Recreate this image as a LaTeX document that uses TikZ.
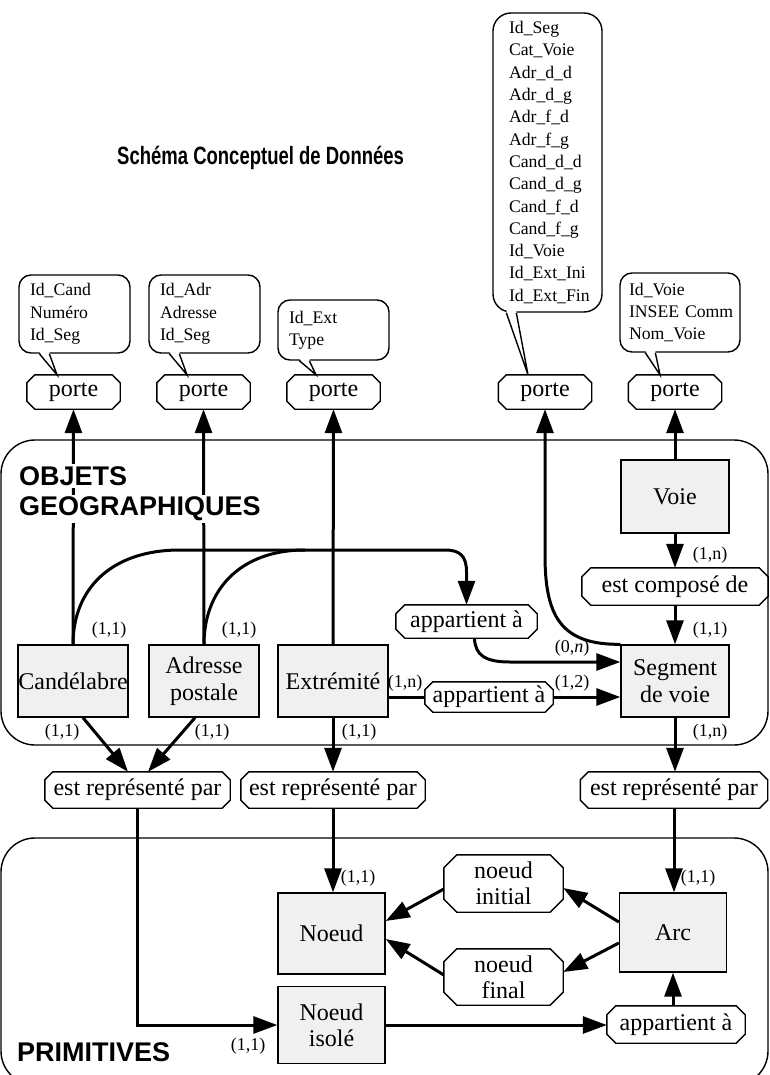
\documentclass[tikz,border=0pt]{standalone}
\usepackage{fontspec}
\setmainfont{Liberation Serif}
\newfontfamily\headfont{Liberation Sans}
\usetikzlibrary{arrows.meta,calc}

\begin{document}
\begin{tikzpicture}[x=1pt,y=-1pt,
  every node/.style={inner sep=0pt, align=center},
  ent/.style={draw, line width=1.4pt, fill=gray!12, font=\fontsize{24}{27}\selectfont},
  rel/.style={font=\fontsize{24}{26}\selectfont},
  relline/.style={line width=1.4pt},
  card/.style={font=\fontsize{18}{20}\selectfont},
  attr/.style={draw, line width=1.4pt, fill=white, rounded corners=12pt, align=left,
    inner xsep=11pt, font=\fontsize{17.7}{22.3}\selectfont},
  conn/.style={line width=3pt, -{Triangle[length=24pt,width=17pt]}},
  plain/.style={line width=3pt},
  frameline/.style={line width=1.4pt, rounded corners=34pt},
  head/.style={font=\headfont\bfseries\fontsize{27}{33}\selectfont, align=left, fill=white, inner sep=2pt}
]
\useasboundingbox (0,0) rectangle (770,1075);

% the two domains
\draw[frameline] (1,440) rectangle (768,745);
\draw[frameline] (1,838) rectangle (768,1085);

\node[anchor=west, font=\headfont\bfseries\fontsize{25}{29}\selectfont] (title) at (117,158)
  {\scalebox{0.74}[1]{Schéma Conceptuel de Données}};

% "porte" relations
\node[rel, minimum width=93pt, minimum height=34pt] (p1) at (73.5,392) {porte};
\node[rel, minimum width=93pt, minimum height=34pt] (p2) at (203.5,392) {porte};
\node[rel, minimum width=93pt, minimum height=34pt] (p3) at (333.5,392) {porte};
\node[rel, minimum width=93pt, minimum height=34pt] (p4) at (545,392) {porte};
\node[rel, minimum width=93pt, minimum height=34pt] (p5) at (675,392) {porte};

% attribute lists
\node[attr, text width=89pt, minimum height=78pt] (b1) at (74.5,314) {Id\_Cand\\Numéro\\Id\_Seg};
\node[attr, text width=89pt, minimum height=78pt] (b2) at (204.5,314) {Id\_Adr\\Adresse\\Id\_Seg};
\node[attr, text width=89pt, minimum height=60pt] (b3) at (333.5,330) {Id\_Ext\\Type};
\node[attr, rounded corners=18pt, inner xsep=16pt, text width=77pt, minimum height=299pt] (b4) at (547.5,162.5)
  {Id\_Seg\\Cat\_Voie\\Adr\_d\_d\\Adr\_d\_g\\Adr\_f\_d\\Adr\_f\_g\\Cand\_d\_d\\Cand\_d\_g\\Cand\_f\_d\\Cand\_f\_g\\Id\_Voie\\Id\_Ext\_Ini\\Id\_Ext\_Fin};
\node[attr, inner xsep=9pt, text width=102pt, minimum height=79pt] (b5) at (680,312.5) {Id\_Voie\\\mbox{INSEE Comm}\\Nom\_Voie};

\foreach \b/\o/\t/\s in {b1/21/p1/-16.5, b2/21/p2/-16.5, b3/22/p3/-17.5, b4/14/p4/-17, b5/26/p5/-15} {
  \fill[white] ($(\b.south west)+(\o,-2)$) -- ($(\b.south west)+(\o+10,-2)$) -- ([xshift=\s pt]\t.north) -- cycle;
  \draw[line width=1.4pt] ($(\b.south west)+(\o,0)$) -- ([xshift=\s pt]\t.north) -- ($(\b.south west)+(\o+10,0)$);
}

% entities
\node[ent, minimum width=110pt, minimum height=72pt] (cand) at (73,681) {Candélabre};
\node[ent, minimum width=110pt, minimum height=72pt] (adr) at (204,681) {Adresse\\postale};
\node[ent, minimum width=110pt, minimum height=72pt] (ext) at (333,681) {Extrémité};
\node[ent, minimum width=108pt, minimum height=72pt] (seg) at (675,681) {Segment\\de voie};
\node[ent, minimum width=108pt, minimum height=73pt] (voie) at (675,496.5) {Voie};
\node[ent, minimum width=107pt, minimum height=81pt] (noeud) at (331.5,933.5) {Noeud};
\node[ent, minimum width=107pt, minimum height=79pt] (arc) at (673,932.5) {Arc};
\node[ent, minimum width=107pt, minimum height=77pt, font=\fontsize{24}{26}\selectfont] (iso) at (331.5,1025) {Noeud\\isolé};

% relations
\node[rel, minimum width=186pt, minimum height=37pt] (estcomp) at (675,586.5) {est composé de};
\node[rel, minimum width=141pt, minimum height=33pt] (app1) at (466.5,621.5) {appartient à};
\node[rel, minimum width=128pt, minimum height=30pt] (app2) at (489,697) {appartient à};
\node[rel, minimum width=185pt, minimum height=36pt] (e1) at (137.5,790) {est représenté par};
\node[rel, minimum width=184pt, minimum height=36pt] (e2) at (333,790) {est représenté par};
\node[rel, minimum width=187pt, minimum height=36pt] (e3) at (674,790) {est représenté par};
\node[rel, minimum width=119pt, minimum height=57pt, font=\fontsize{24}{26}\selectfont] (init) at (503.5,883.5) {noeud\\initial};
\node[rel, minimum width=119pt, minimum height=56pt, font=\fontsize{24}{26}\selectfont] (final) at (503.5,977) {noeud\\final};
\node[rel, minimum width=138pt, minimum height=37pt] (app3) at (676,1024.5) {appartient à};

\foreach \n/\c in {p1/8,p2/8,p3/8,p4/8,p5/8,estcomp/9,app1/9,app2/8,e1/8,e2/8,e3/8,app3/9,init/13,final/13}
  \draw[relline] ([xshift=\c pt]\n.north west) -- ([xshift=-\c pt]\n.north east)
    -- ([yshift=-\c pt]\n.north east) -- ([yshift=\c pt]\n.south east)
    -- ([xshift=-\c pt]\n.south east) -- ([xshift=\c pt]\n.south west)
    -- ([yshift=\c pt]\n.south west) -- ([yshift=-\c pt]\n.north west) -- cycle;

% connectors
\draw[conn] (cand.north) -- (p1.south);
\draw[conn] (adr.north) -- (p2.south);
\draw[conn] (ext.north) -- (p3.south);
\draw[conn] (voie.north) -- (p5.south);
\draw[conn] (seg.north west) .. controls (560,645) and (545,615) .. (545,555) -- (p4.south);
\draw[conn] (voie.south) -- (estcomp.north);
\draw[conn] (estcomp.south) -- (seg.north);
\draw[conn] (cand.north) .. controls (73,590) and (110,550) .. (180,550) -- (445,550)
  .. controls (460,550) and (466.5,556) .. (466.5,572) -- (app1.north);
\draw[plain] (adr.north) .. controls (204,590) and (240,550) .. (305,550);
\draw[conn] ([xshift=8pt]app1.south) .. controls (475,655) and (485,662) .. (510,662) -- ($(seg.west)+(0,-19)$);
\draw[plain] (app2.west -| ext.east) -- (app2.west);
\draw[conn] (app2.east) -- (app2.east -| seg.west);
\draw[conn] ([xshift=10pt]cand.south) -- ([xshift=-9.5pt]e1.north);
\draw[conn] ([xshift=-9pt]adr.south) -- ([xshift=10.5pt]e1.north);
\draw[conn] (ext.south) -- (e2.north);
\draw[conn] (seg.south) -- (seg.south |- e3.north);
\draw[conn] (e1.south) |- (iso.west);
\draw[conn] (e2.south) -- (e2.south |- noeud.north);
\draw[conn] (e3.south) -- (e3.south |- arc.north);
\draw[conn] (iso.east) -- (iso.east -| app3.west);
\draw[conn] (arc.south |- app3.north) -- (arc.south);
\draw[conn] ([yshift=10.5pt]arc.west) -- ([yshift=-4.5pt]init.east);
\draw[conn] ([yshift=-5.5pt]init.west) -- ([yshift=12.5pt]noeud.east);
\draw[conn] ([yshift=-10.5pt]arc.west) -- ([yshift=5pt]final.east);
\draw[conn] ([yshift=2pt]final.west) -- ([yshift=-5.5pt]noeud.east);

% cardinalities
\node[card] (k1) at (710,555) {(1,n)};
\node[card] (k2) at (710,630) {(1,1)};
\node[card] (k3) at (109,630) {(1,1)};
\node[card] (k4) at (239,630) {(1,1)};
\node[card] (k5) at (572,648) {(0,\textit{n})};
\node[card] (k6) at (405,683) {(1,n)};
\node[card] (k7) at (572,683) {(1,2)};
\node[card] (k8) at (62,732) {(1,1)};
\node[card] (k9) at (212,732) {(1,1)};
\node[card] (k10) at (359,732) {(1,1)};
\node[card] (k11) at (710,732) {(1,n)};
\node[card] (k12) at (358,878) {(1,1)};
\node[card] (k13) at (698,878) {(1,1)};
\node[card] (k14) at (248,1046) {(1,1)};

% domain titles
\node[head, anchor=west] (objets) at (17,476) {OBJETS};
\node[head, anchor=west] (geo) at (17,509) {GEOGRAPHIQUES};
\node[head, anchor=west] (prim) at (15,1052) {PRIMITIVES};
\end{tikzpicture}
\end{document}
